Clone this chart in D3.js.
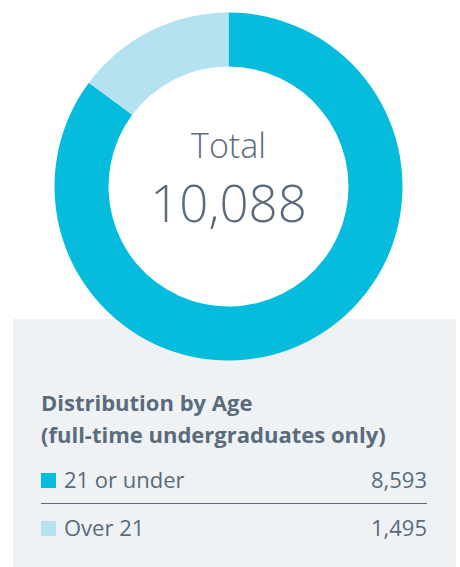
<!DOCTYPE html>
<html>
<head>
<meta charset="utf-8">
<script src="https://cdn.jsdelivr.net/npm/d3@7"></script>
<style>
  html, body { margin: 0; padding: 0; background: #ffffff; }
  svg { display: block; font-family: "Open Sans", "Noto Sans", sans-serif; }
</style>
</head>
<body>
<svg id="chart" width="460" height="567"></svg>
<script>
// Data
var categories = ["21 or under", "Over 21"];
var values = [8593, 1495];
var colors = ["#05bcdc", "#b4e2f0"];
var totalLabel = "Total";
var legendTitle = ["Distribution by Age", "(full-time undergraduates only)"];

var svg = d3.select("#chart");
var textColor = "#5b6b7b";
var fmt = d3.format(",");

// Grey legend panel sits behind the ring
svg.append("rect")
    .attr("x", 13)
    .attr("y", 319)
    .attr("width", 443)
    .attr("height", 248)
    .attr("fill", "#eef2f4");

// Donut
var cx = 228.5, cy = 186.5;
var pie = d3.pie().sort(null).value(function (d) { return d; });
var arc = d3.arc().innerRadius(120).outerRadius(174);

var g = svg.append("g").attr("transform", "translate(" + cx + "," + cy + ")");
g.selectAll("path")
    .data(pie(values))
    .enter()
    .append("path")
    .attr("d", arc)
    .attr("fill", function (d, i) { return colors[i]; });

// Centre label
g.append("text")
    .attr("text-anchor", "middle")
    .attr("y", -28.5)
    .attr("fill", textColor)
    .style("font-size", "34px")
    .style("font-weight", 300)
    .text(totalLabel);

g.append("text")
    .attr("text-anchor", "middle")
    .attr("y", 35)
    .attr("fill", textColor)
    .style("font-size", "51px")
    .style("font-weight", 300)
    .text(fmt(d3.sum(values)));

// Legend
var left = 41, right = 427;

svg.selectAll(".title")
    .data(legendTitle)
    .enter()
    .append("text")
    .attr("class", "title")
    .attr("x", left)
    .attr("y", function (d, i) { return 411 + i * 32; })
    .attr("fill", textColor)
    .style("font-size", "22px")
    .style("font-weight", 700)
    .text(function (d) { return d; });

var rowY = [488, 536];
var rows = svg.selectAll(".row")
    .data(categories)
    .enter()
    .append("g")
    .attr("class", "row")
    .attr("transform", function (d, i) { return "translate(0," + rowY[i] + ")"; });

rows.append("rect")
    .attr("x", left)
    .attr("y", -15)
    .attr("width", 15)
    .attr("height", 15)
    .attr("fill", function (d, i) { return colors[i]; });

rows.append("text")
    .attr("x", 64)
    .attr("fill", textColor)
    .style("font-size", "22px")
    .text(function (d) { return d; });

rows.append("text")
    .attr("x", right)
    .attr("text-anchor", "end")
    .attr("fill", textColor)
    .style("font-size", "22px")
    .text(function (d, i) { return fmt(values[i]); });

// Divider between the rows
svg.append("line")
    .attr("x1", left)
    .attr("x2", right)
    .attr("y1", 503.5)
    .attr("y2", 503.5)
    .attr("stroke", textColor)
    .attr("stroke-width", 1);
</script>
</body>
</html>
